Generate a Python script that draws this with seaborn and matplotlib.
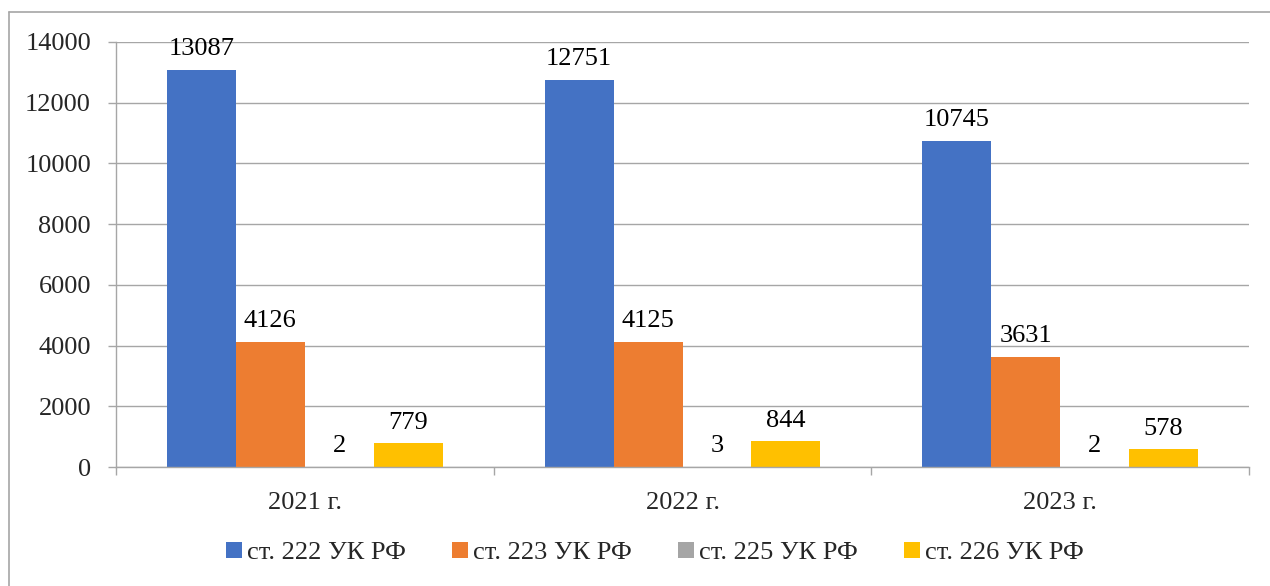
import matplotlib.pyplot as plt
import pandas as pd
import seaborn as sns
from matplotlib.lines import Line2D
from matplotlib.patches import Patch

years = ["2021 г.", "2022 г.", "2023 г."]
series = ["ст. 222 УК РФ", "ст. 223 УК РФ", "ст. 225 УК РФ", "ст. 226 УК РФ"]
st222 = [13087, 12751, 10745]
st223 = [4126, 4125, 3631]
st225 = [2, 3, 2]
st226 = [779, 844, 578]
colors = ["#4472C4", "#ED7D31", "#A5A5A5", "#FFC000"]

rows = []
for name, vals in zip(series, [st222, st223, st225, st226]):
    for y, v in zip(years, vals):
        rows.append({"year": y, "series": name, "value": v})
data = pd.DataFrame(rows)

sns.set_style("white")
plt.rcParams["font.family"] = ["Liberation Serif", "DejaVu Serif"]
FS = 19
plt.rcParams["font.size"] = FS

fig = plt.figure(figsize=(12.7, 5.86), dpi=100)
ax = fig.add_axes([116 / 1270, 1 - 467 / 586, (1249 - 116) / 1270, (467 - 42) / 586])

sns.barplot(data=data, x="year", y="value", hue="series", palette=colors,
            saturation=1, width=0.73, linewidth=0, ax=ax, legend=False,
            errorbar=None)

for cont in ax.containers:
    ax.bar_label(cont, fmt="%d", padding=7, fontsize=FS, color="black")

ax.set_ylim(0, 14000)
ax.set_xlim(-0.5, 2.5)
ax.set_yticks(range(0, 14001, 2000))
ax.yaxis.grid(True, color="#A6A6A6", linewidth=1)
ax.set_axisbelow(True)
ax.set_xlabel("")
ax.set_ylabel("")

for side in ["top", "right"]:
    ax.spines[side].set_visible(False)
for side in ["left", "bottom"]:
    ax.spines[side].set_color("#A6A6A6")
    ax.spines[side].set_linewidth(1)

ax.tick_params(axis="y", direction="out", length=6, width=1, color="#A6A6A6",
               pad=12, labelsize=FS, left=True)
ax.tick_params(axis="x", which="major", length=0, pad=18, labelsize=FS)
ax.set_xticks([-0.5, 0.5, 1.5, 2.5], minor=True)
ax.tick_params(axis="x", which="minor", direction="out", length=6, width=1,
               color="#A6A6A6", bottom=True)

handles = [Patch(facecolor=c, edgecolor="none") for c in colors]
fig.legend(handles, series, loc="center", bbox_to_anchor=(655 / 1270, 1 - 553 / 586),
           ncol=4, frameon=False, fontsize=FS, handlelength=0.6, handleheight=0.6,
           handletextpad=0.2, columnspacing=1.75)

# outer frame (only top and left edges visible)
fig.add_artist(Line2D([9 / 1270, 1], [1 - 12 / 586, 1 - 12 / 586],
                      color="#A6A6A6", linewidth=1.2, transform=fig.transFigure))
fig.add_artist(Line2D([9 / 1270, 9 / 1270], [0, 1 - 12 / 586],
                      color="#A6A6A6", linewidth=1.2, transform=fig.transFigure))

fig.savefig("out.png", dpi=100)
